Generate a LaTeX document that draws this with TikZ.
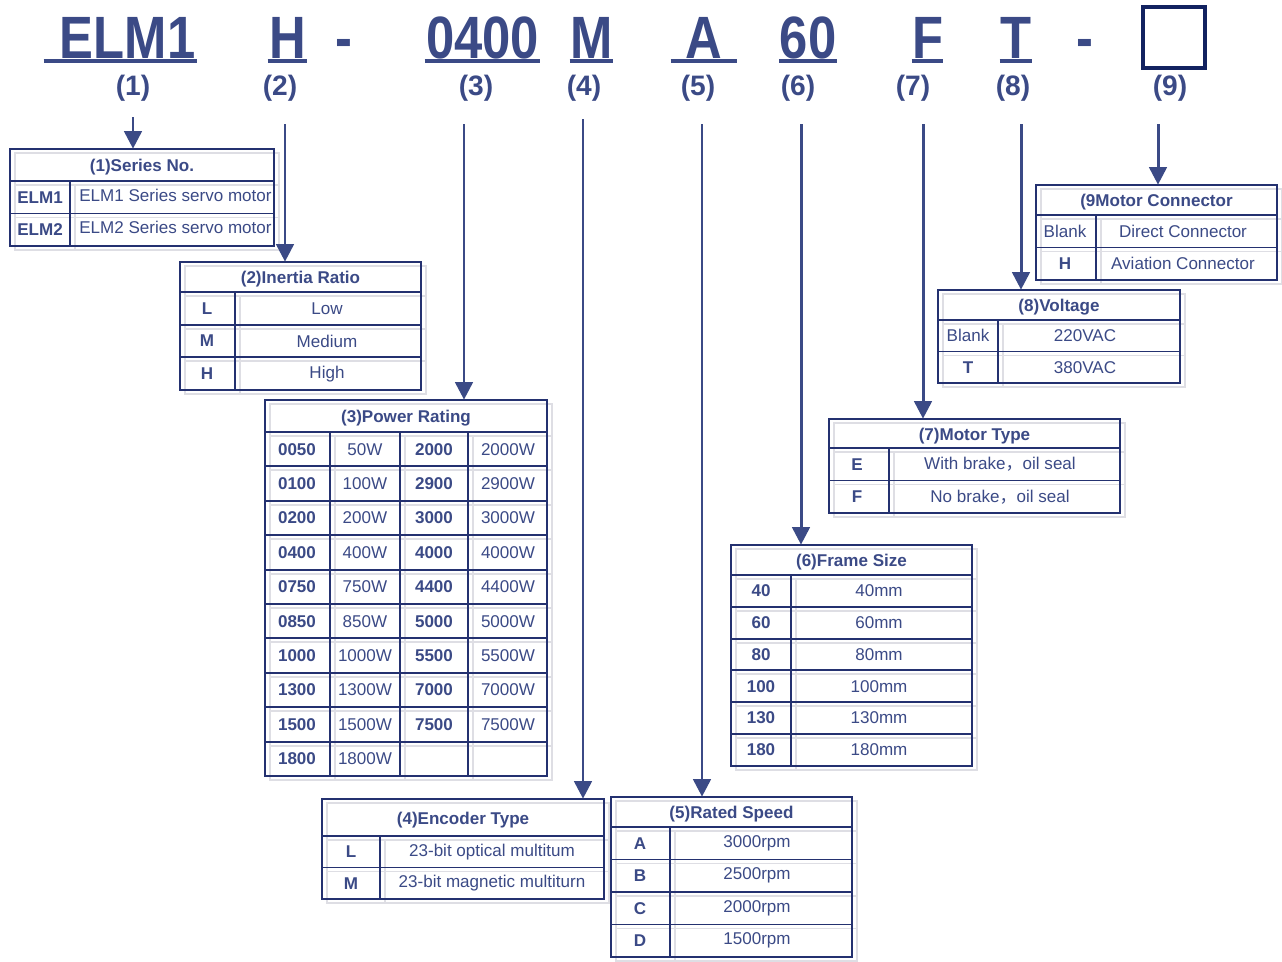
\documentclass[tikz,border=0pt]{standalone}
\usepackage{fontspec}
\setmainfont{Liberation Sans}
\newfontfamily\cjk{Noto Sans CJK SC}
\usetikzlibrary{arrows.meta}

\definecolor{ink}{RGB}{59,74,134}
\definecolor{rulecol}{RGB}{36,49,112}
\definecolor{navy}{RGB}{18,34,96}
\definecolor{shadowcol}{RGB}{222,222,228}

\newcommand{\tabfont}{\fontsize{9.7}{11.6}\selectfont}
\newcommand{\narrow}[1]{\scalebox{0.85}[1]{#1}}

% grid of one table: left, top, right, header height, row height, rows, column splits
\newcommand{\gridlines}[7]{%
  \pgfmathsetmacro{\tbot}{#2+#4+#5*#6}
  \draw (#1,#2) rectangle (#3,\tbot);
  \foreach \rw in {1,...,#6} \draw (#1,{#2+#4+(\rw-1)*#5}) -- (#3,{#2+#4+(\rw-1)*#5});
  \foreach \cx in {#7} \draw (\cx,{#2+#4}) -- (\cx,\tbot);
}
\newcommand{\spectab}[9]{%
  \begin{scope}[shadowline, shift={(5,4)}]\gridlines{#1}{#2}{#3}{#4}{#5}{#6}{#7}\end{scope}
  \begin{scope}[tabline]\gridlines{#1}{#2}{#3}{#4}{#5}{#6}{#7}\end{scope}
  \pgfmathsetmacro{\tw}{(#3-#1)*0.02}
  \pgfmathsetmacro{\thh}{#4*0.02}
  \node[tabtitle, minimum width=\tw cm, minimum height=\thh cm] (#8) at ({(#1+#3)/2},{#2+#4/2}) {#9};
}

\tikzset{
  tabline/.style={color=rulecol, line width=1.1pt},
  shadowline/.style={color=shadowcol, line width=1.1pt},
  tabtitle/.style={inner sep=0pt, text height=7.5pt, text depth=0pt, text=ink, font=\tabfont\bfseries},
  keytext/.style={inner sep=0pt, text=ink, font=\tabfont\bfseries},
  valtext/.style={inner sep=0pt, text=ink, font=\tabfont},
  partcode/.style={inner sep=0pt, anchor=base, text=ink, font=\fontsize{34}{40}\selectfont\bfseries},
  codeline/.style={draw=ink, line width=2.3pt},
  partno/.style={inner sep=0pt, text=ink, font=\fontsize{16}{19}\selectfont\bfseries},
  feed/.style={draw=ink, line width=1.7pt, -{Triangle[length=10pt,width=10pt]}},
}

\begin{document}
\begin{tikzpicture}[x=0.02cm, y=-0.02cm]
\useasboundingbox (0,0) rectangle (1282,961);
\fill[white] (0,0) rectangle (1282,961);

% model code
\node[partcode, minimum width=3.06cm] (code1) at (120.5,58) {\narrow{\ ELM1}};
\node[partcode, minimum width=0.78cm] (code2) at (287.5,58) {\narrow{H}};
\node[partcode] (dash1) at (344,58) {\narrow{-}};
\node[partcode, minimum width=2.30cm] (code3) at (482.5,58) {\narrow{0400}};
\node[partcode, minimum width=0.86cm] (code4) at (591.5,58) {\narrow{M}};
\node[partcode, minimum width=1.32cm] (code5) at (704,58) {\narrow{A}};
\node[partcode, minimum width=1.12cm] (code6) at (808,58) {\narrow{60}};
\node[partcode, minimum width=0.62cm] (code7) at (927.5,58) {\narrow{F}};
\node[partcode, minimum width=0.64cm] (code8) at (1016,58) {\narrow{T}};
\node[partcode] (dash2) at (1085,58) {\narrow{-}};
\node[draw=navy, line width=2.3pt, minimum width=1.24cm, minimum height=1.22cm] (code9) at (1174,37.5) {};
\foreach \n in {1,...,8}
  \draw[codeline] ([yshift=-0.06cm]code\n.base west) -- ([yshift=-0.06cm]code\n.base east);

% position numbers
\foreach \n/\x in {1/133, 2/280, 3/476, 4/584, 5/698, 6/798, 7/913, 8/1013, 9/1170}
  \node[partno] (n\n) at (\x,88) {(\n)};

% tables
\spectab{10}{149}{274}{32}{32.5}{2}{70}{series}{(1)Series No.}
\spectab{180}{262}{421}{30}{32.7}{3}{235}{inertia}{(2)Inertia Ratio}
\spectab{265}{400}{547}{32}{34.4}{10}{330,400,468}{power}{(3)Power Rating}
\spectab{322}{799}{604}{37}{31.5}{2}{380}{encoder}{(4)Encoder Type}
\spectab{611}{797}{852}{30}{32.5}{4}{670}{speed}{(5)Rated Speed}
\spectab{731}{545}{972}{30}{31.8}{6}{791}{frame}{(6)Frame Size}
\spectab{829}{419}{1120}{29}{32.5}{2}{889}{motortype}{(7)Motor Type}
\spectab{938}{290}{1180}{30}{31.5}{2}{998}{voltage}{(8)Voltage}
\spectab{1036}{185}{1277}{30}{32.5}{2}{1096}{connector}{(9Motor Connector}

% table contents
\foreach \k/\v [count=\i] in {ELM1/ELM1 Series servo motor, ELM2/ELM2 Series servo motor}{
  \node[keytext] (series-k\i) at (40,{181+32.5*(\i-0.5)}) {\k};
  \node[valtext, anchor=west] (series-v\i) at (79,{181+32.5*(\i-0.5)-2}) {\v};}
\foreach \k/\v [count=\i] in {L/Low, M/Medium, H/High}{
  \node[keytext] (inertia-k\i) at (207,{292+32.7*(\i-0.5)}) {\k};
  \node[valtext] (inertia-v\i) at (327,{292+32.7*(\i-0.5)}) {\v};}
\foreach \ka/\va/\kb/\vb [count=\i] in {0050/50W/2000/2000W, 0100/100W/2900/2900W,
    0200/200W/3000/3000W, 0400/400W/4000/4000W, 0750/750W/4400/4400W,
    0850/850W/5000/5000W, 1000/1000W/5500/5500W, 1300/1300W/7000/7000W,
    1500/1500W/7500/7500W, 1800/1800W/{}/{}}{
  \node[keytext] (power-a\i) at (297,{432+34.4*(\i-0.5)}) {\ka};
  \node[valtext] (power-b\i) at (365,{432+34.4*(\i-0.5)}) {\va};
  \node[keytext] (power-c\i) at (434,{432+34.4*(\i-0.5)}) {\kb};
  \node[valtext] (power-d\i) at (508,{432+34.4*(\i-0.5)}) {\vb};}
\foreach \k/\v [count=\i] in {L/23-bit optical multitum, M/23-bit magnetic multiturn}{
  \node[keytext] (encoder-k\i) at (351,{836+31.5*(\i-0.5)}) {\k};
  \node[valtext] (encoder-v\i) at (492,{836+31.5*(\i-0.5)}) {\v};}
\foreach \k/\v [count=\i] in {A/3000rpm, B/2500rpm, C/2000rpm, D/1500rpm}{
  \node[keytext] (speed-k\i) at (640,{827+32.5*(\i-0.5)}) {\k};
  \node[valtext] (speed-v\i) at (757,{827+32.5*(\i-0.5)}) {\v};}
\foreach \k/\v [count=\i] in {40/40mm, 60/60mm, 80/80mm, 100/100mm, 130/130mm, 180/180mm}{
  \node[keytext] (frame-k\i) at (761,{575+31.8*(\i-0.5)}) {\k};
  \node[valtext] (frame-v\i) at (879,{575+31.8*(\i-0.5)}) {\v};}
\foreach \k/\v [count=\i] in {E/{With brake{\cjk ，}oil seal}, F/{No brake{\cjk ，}oil seal}}{
  \node[keytext] (motortype-k\i) at (857,{448+32.5*(\i-0.5)}) {\k};
  \node[valtext] (motortype-v\i) at (1000,{448+32.5*(\i-0.5)}) {\v};}
\foreach \k/\v [count=\i] in {\textmd{Blank}/220VAC, T/380VAC}{
  \node[keytext] (voltage-k\i) at (968,{320+31.5*(\i-0.5)}) {\k};
  \node[valtext] (voltage-v\i) at (1085,{320+31.5*(\i-0.5)}) {\v};}
\foreach \k/\v [count=\i] in {\textmd{Blank}/Direct Connector, H/Aviation Connector}{
  \node[keytext] (connector-k\i) at (1065,{215+32.5*(\i-0.5)}) {\k};
  \node[valtext] (connector-v\i) at (1183,{215+32.5*(\i-0.5)}) {\v};}

% arrows from the position numbers
\coordinate (a1) at (133,117);
\coordinate (a2) at (285,124);
\coordinate (a3) at (464,124);
\coordinate (a4) at (583,119);
\coordinate (a5) at (702,124);
\coordinate (a6) at (801,124);
\coordinate (a7) at (923,124);
\coordinate (a8) at (1021,124);
\coordinate (a9) at (1158,124);
\draw[feed] (a1) -- (a1 |- series.north);
\draw[feed] (a2) -- (a2 |- inertia.north);
\draw[feed] (a3) -- (a3 |- power.north);
\draw[feed] (a4) -- (a4 |- encoder.north);
\draw[feed] (a5) -- (a5 |- speed.north);
\draw[feed] (a6) -- (a6 |- frame.north);
\draw[feed] (a7) -- (a7 |- motortype.north);
\draw[feed] (a8) -- (a8 |- voltage.north);
\draw[feed] (a9) -- (a9 |- connector.north);
\end{tikzpicture}
\end{document}
